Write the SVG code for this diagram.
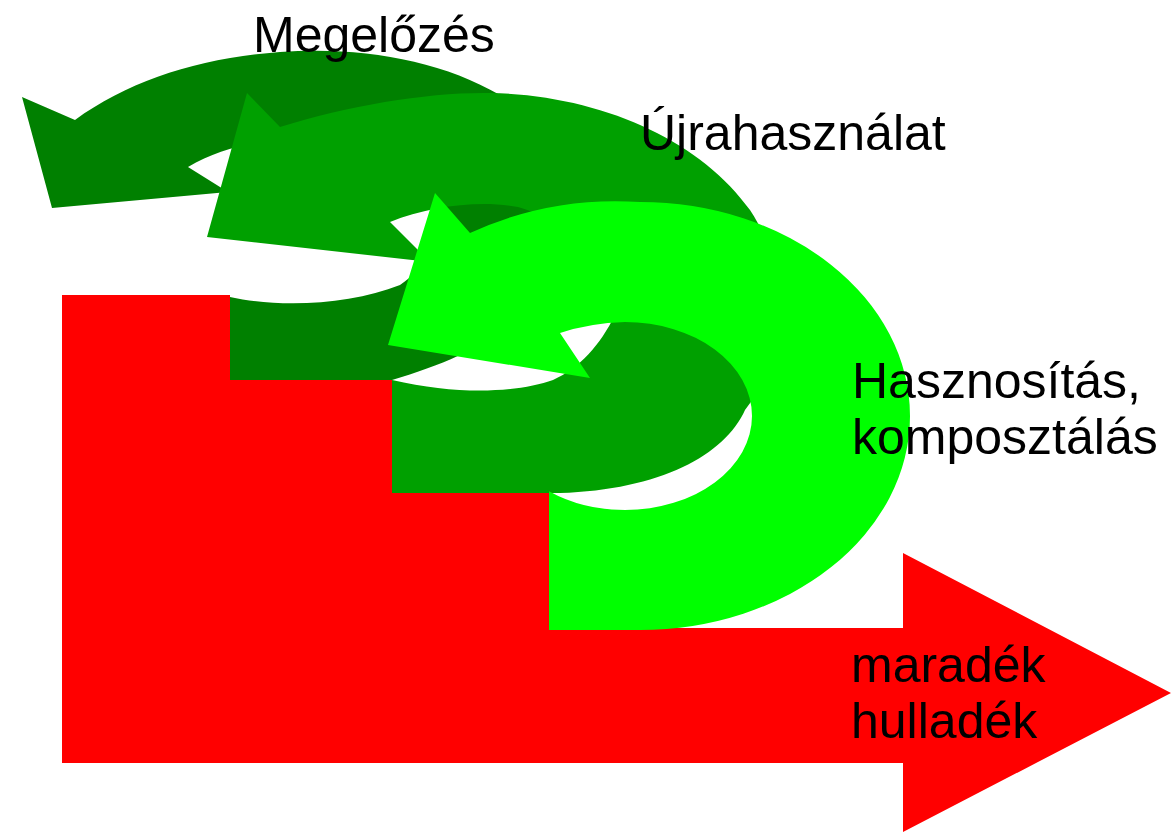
<svg xmlns="http://www.w3.org/2000/svg" width="1171" height="833" viewBox="0 0 1171 833">
<style>
.lbl{font-family:"Liberation Sans",Arial,sans-serif;font-size:50px;fill:#000}
.red{fill:#ff0000}
.dark{fill:#008000}
.mid{fill:#00a000}
.light{fill:#00ff00}
</style>
<rect width="1171" height="833" fill="#fff"/>
<g id="red-arrow">
<path class="red" d="M62,295 L230,295 L230,380 L392,380 L392,493 L549,493 L549,628 L903,628 L903,553 L1171,693 L903,832 L903,763 L62,763 Z"/>
</g>
<g id="arrow-megelozes">
<path class="dark" d="M230,380 L392,380 C460,360 510,335 540,290 C580,220 560,130 500,95 C440,60 360,46 280,52 C200,58 130,80 75,120 L22,97 L52,208 L228,192 L188,167 C250,130 330,135 390,160 C445,190 445,255 400,285 C350,305 280,308 230,297 Z"/>
</g>
<g id="arrow-ujrahasznalat">
<path class="mid" d="M392,493 L560,493 C660,490 725,455 745,410 C785,360 790,270 750,210 C700,140 600,95 490,93 C430,92 350,105 280,127 L247,93 L207,237 L430,262 L390,222 C430,206 480,200 518,207 C565,220 630,270 615,315 C600,345 580,368 553,380 C520,392 460,396 392,380 Z"/>
</g>
<g id="arrow-hasznositas">
<path class="light" d="M549,630 L640,630 A270,214 0 0 0 640,202 Q550,196 470,233 L435,193 L388,345 L590,378 L560,333 Q590,323 625,322 A127,94 0 0 1 625,510 A127,94 0 0 1 549,491.2 Z"/>
</g>
<g id="labels">
<text class="lbl" x="253" y="52">Megelőzés</text>
<text class="lbl" x="640" y="150">Újrahasználat</text>
<text class="lbl" x="852" y="398">Hasznosítás,</text>
<text class="lbl" x="852" y="454">komposztálás</text>
<text class="lbl" x="851" y="682">maradék</text>
<text class="lbl" x="851" y="738">hulladék</text>
</g>
</svg>
